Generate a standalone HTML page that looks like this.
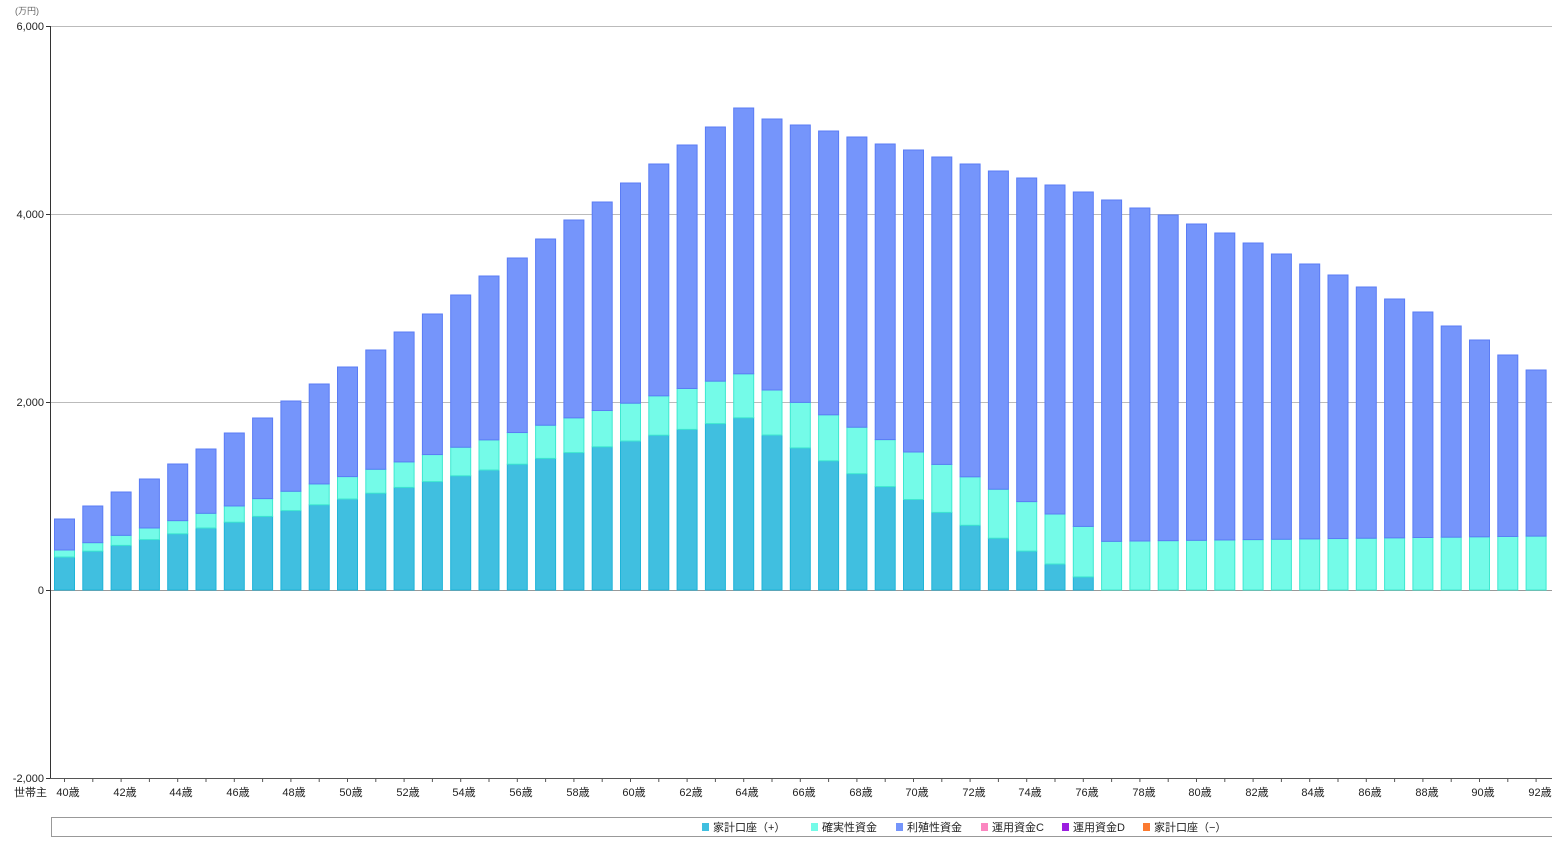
<!DOCTYPE html>
<html><head><meta charset="utf-8"><style>
body{margin:0;background:#fff;width:1552px;height:849px;overflow:hidden}
svg text{font-family:"Liberation Sans","Noto Sans CJK JP",sans-serif;font-size:11px;fill:#222}
</style></head><body>
<svg id="s" width="1552" height="849" xmlns="http://www.w3.org/2000/svg">
<text x="15" y="14" font-size="9" style="font-size:9px;fill:#666">(万円)</text>
<line x1="50" y1="26.5" x2="1552" y2="26.5" stroke="#bbb"/>
<line x1="50" y1="214.5" x2="1552" y2="214.5" stroke="#bbb"/>
<line x1="50" y1="402.5" x2="1552" y2="402.5" stroke="#bbb"/>
<line x1="50" y1="590.5" x2="1552" y2="590.5" stroke="#999"/>
<g id="bars"></g>
<line x1="50.5" y1="26" x2="50.5" y2="779" stroke="#333"/>
<line x1="50" y1="778.5" x2="1552" y2="778.5" stroke="#555"/>
<g text-anchor="end">
<text x="44" y="30" text-anchor="end">6,000</text>
<text x="44" y="218" text-anchor="end">4,000</text>
<text x="44" y="406" text-anchor="end">2,000</text>
<text x="44" y="594" text-anchor="end">0</text>
<text x="44" y="782" text-anchor="end">-2,000</text>
</g>
<line x1="46" y1="26.5" x2="50" y2="26.5" stroke="#333"/>
<line x1="46" y1="214.5" x2="50" y2="214.5" stroke="#333"/>
<line x1="46" y1="402.5" x2="50" y2="402.5" stroke="#333"/>
<line x1="46" y1="590.5" x2="50" y2="590.5" stroke="#333"/>
<line x1="46" y1="778.5" x2="50" y2="778.5" stroke="#333"/>
<text x="14" y="796">世帯主</text>
<g id="xl" text-anchor="middle">
<text x="68" y="796" text-anchor="middle">40歳</text>
<text x="125" y="796" text-anchor="middle">42歳</text>
<text x="181" y="796" text-anchor="middle">44歳</text>
<text x="238" y="796" text-anchor="middle">46歳</text>
<text x="294" y="796" text-anchor="middle">48歳</text>
<text x="351" y="796" text-anchor="middle">50歳</text>
<text x="408" y="796" text-anchor="middle">52歳</text>
<text x="464" y="796" text-anchor="middle">54歳</text>
<text x="521" y="796" text-anchor="middle">56歳</text>
<text x="578" y="796" text-anchor="middle">58歳</text>
<text x="634" y="796" text-anchor="middle">60歳</text>
<text x="691" y="796" text-anchor="middle">62歳</text>
<text x="747" y="796" text-anchor="middle">64歳</text>
<text x="804" y="796" text-anchor="middle">66歳</text>
<text x="861" y="796" text-anchor="middle">68歳</text>
<text x="917" y="796" text-anchor="middle">70歳</text>
<text x="974" y="796" text-anchor="middle">72歳</text>
<text x="1030" y="796" text-anchor="middle">74歳</text>
<text x="1087" y="796" text-anchor="middle">76歳</text>
<text x="1144" y="796" text-anchor="middle">78歳</text>
<text x="1200" y="796" text-anchor="middle">80歳</text>
<text x="1257" y="796" text-anchor="middle">82歳</text>
<text x="1313" y="796" text-anchor="middle">84歳</text>
<text x="1370" y="796" text-anchor="middle">86歳</text>
<text x="1427" y="796" text-anchor="middle">88歳</text>
<text x="1483" y="796" text-anchor="middle">90歳</text>
<text x="1540" y="796" text-anchor="middle">92歳</text>
</g>
<g id="tk"></g>
<rect x="51.5" y="817.5" width="1501" height="19" fill="none" stroke="#999"/>
<rect x="702" y="823" width="7" height="8" fill="#40bfe0"/><text x="713" y="831">家計口座（+）</text>
<rect x="811" y="823" width="7" height="8" fill="#74fbe8"/><text x="822" y="831">確実性資金</text>
<rect x="896" y="823" width="7" height="8" fill="#7595fb"/><text x="907" y="831">利殖性資金</text>
<rect x="981" y="823" width="7" height="8" fill="#fb86c0"/><text x="992" y="831">運用資金C</text>
<rect x="1062" y="823" width="7" height="8" fill="#9b1ee0"/><text x="1073" y="831">運用資金D</text>
<rect x="1143" y="823" width="7" height="8" fill="#fb7a30"/><text x="1154" y="831">家計口座（−）</text>
</svg>
<script>
var tot=[519,506,492,479,464,449,433,418,401,384,367,350,332,314,295,276,258,239,220,202,183,164,145,127,108,119,125,131,137,144,150,157,164,171,178,185,192,200,208,215,224,233,243,254,264,275,287,299,312,326,340,355,370];
var h='',t='';
for(var i=0;i<53;i++){
 var age=40+i,cx=64.5+28.3*i,x=cx-10,c,g;
 if(age<=64){c=557-5.8*i;g=c-(7+37*i/24);}
 else if(age<=76){c=435+12.9*(age-65);g=390+12.4*(age-65);}
 else {c=590;g=541-(age-78)*0.35;}
 h+='<rect x="'+x+'" y="'+c+'" width="20" height="'+(590-c)+'" fill="#40bfe0" stroke="#1eb4d8"/>';
 h+='<rect x="'+x+'" y="'+g+'" width="20" height="'+(c-g)+'" fill="#74fbe8" stroke="#3ee8d0"/>';
 h+='<rect x="'+x+'" y="'+tot[i]+'" width="20" height="'+(g-tot[i])+'" fill="#7595fb" stroke="#5a7cf5"/>';
 t+='<line x1="'+cx+'" y1="778" x2="'+cx+'" y2="782" stroke="#555"/>';
}
document.getElementById('bars').innerHTML=h;
document.getElementById('tk').innerHTML=t;
</script>
</body></html>
